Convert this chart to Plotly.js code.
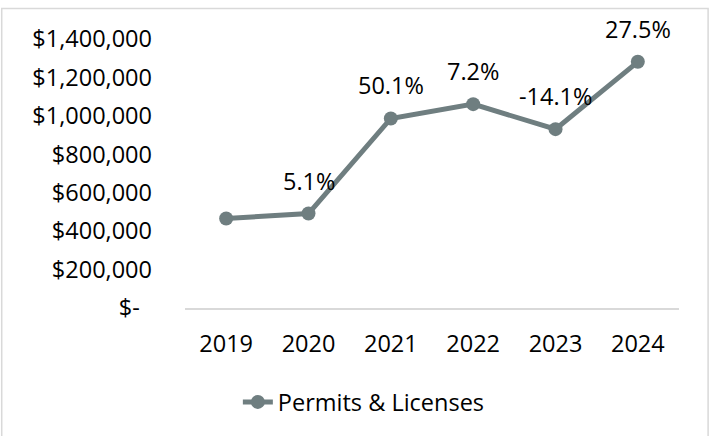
<!DOCTYPE html>
<html>
<head>
<meta charset="utf-8">
<script src="https://cdn.plot.ly/plotly-3.0.1.min.js"></script>
<style>
  html, body { margin: 0; padding: 0; background: #ffffff; }
  #chart { width: 713px; height: 436px; }
</style>
</head>
<body>
<div id="chart"></div>
<script>
// Data
const years = ["2019", "2020", "2021", "2022", "2023", "2024"];
const permitsLicenses = [465600, 491700, 986500, 1060900, 930700, 1281300];
const growthLabels = ["", "5.1%", "50.1%", "7.2%", "-14.1%", "27.5%"];
const yTickVals = [0, 200000, 400000, 600000, 800000, 1000000, 1200000, 1400000];
const yTickText = ["$-\u00a0\u00a0", "$200,000", "$400,000", "$600,000", "$800,000", "$1,000,000", "$1,200,000", "$1,400,000"];
const seriesName = "Permits & Licenses";

const lineColor = "#6f7e80";
const fontFamily = "'Open Sans', Lato, sans-serif";
const fontSize = 23.5;

const trace = {
  type: "scatter",
  mode: "lines+markers",
  x: years,
  y: permitsLicenses,
  name: seriesName,
  line: { color: lineColor, width: 5 },
  marker: { color: lineColor, size: 14 },
  hoverinfo: "skip"
};

const annotations = [];
for (let i = 0; i < years.length; i++) {
  if (growthLabels[i] === "") continue;
  annotations.push({
    x: i,
    y: permitsLicenses[i],
    xref: "x",
    yref: "y",
    text: growthLabels[i],
    showarrow: false,
    xanchor: "center",
    yanchor: "middle",
    yshift: 33,
    font: { family: fontFamily, size: fontSize, color: "#000000" }
  });
}

const layout = {
  width: 713,
  height: 436,
  margin: { l: 185, r: 34, t: 39, b: 128, pad: 0 },
  paper_bgcolor: "#ffffff",
  plot_bgcolor: "#ffffff",
  font: { family: fontFamily, size: fontSize, color: "#000000" },
  showlegend: true,
  legend: {
    orientation: "h",
    x: 0.107,
    xanchor: "left",
    y: -0.35,
    yanchor: "middle",
    font: { family: fontFamily, size: fontSize, color: "#000000" },
    bgcolor: "rgba(0,0,0,0)"
  },
  xaxis: {
    type: "category",
    range: [-0.5, 5.5],
    showgrid: false,
    zeroline: false,
    showline: true,
    linecolor: "#d9d9d9",
    linewidth: 1.5,
    ticks: "",
    ticklabelstandoff: 14,
    tickfont: { family: fontFamily, size: fontSize, color: "#000000" },
    fixedrange: true
  },
  yaxis: {
    range: [0, 1400000],
    tickvals: yTickVals,
    ticktext: yTickText,
    showgrid: false,
    zeroline: false,
    showline: false,
    ticks: "",
    ticklabelstandoff: 32,
    tickfont: { family: fontFamily, size: fontSize, color: "#000000" },
    fixedrange: true
  },
  annotations: annotations,
  shapes: [{
    type: "rect",
    xref: "paper",
    yref: "paper",
    x0: -0.371, x1: 1.0589,
    y0: -0.5, y1: 1.113,
    line: { color: "#d9d9d9", width: 1.5 },
    fillcolor: "rgba(0,0,0,0)",
    layer: "below"
  }]
};

Plotly.newPlot("chart", [trace], layout, { displayModeBar: false });
</script>
</body>
</html>
